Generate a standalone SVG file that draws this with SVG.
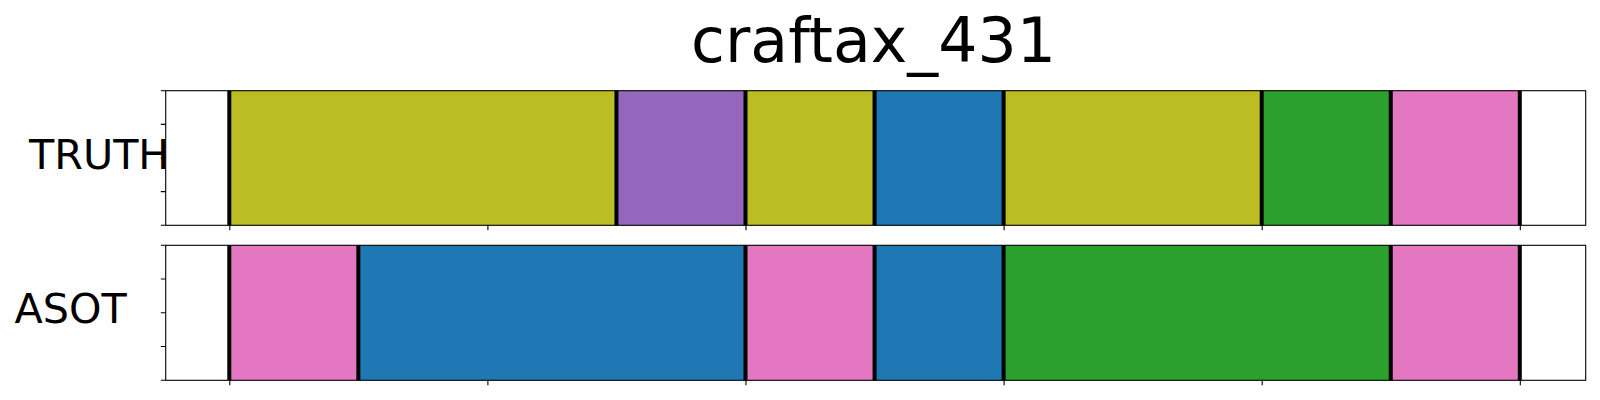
<svg xmlns="http://www.w3.org/2000/svg" width="1600" height="400" viewBox="0 0 1600 400">
<style>
.t{font-family:"DejaVu Sans","Liberation Sans",sans-serif;fill:#000}
.frame{fill:none;stroke:#000;stroke-width:1.1}
.tick{stroke:#000;stroke-width:1.1}
.sep{fill:#000}
.olive{fill:#bcbd22}.purple{fill:#9467bd}.blue{fill:#1f77b4}.green{fill:#2ca02c}.pink{fill:#e377c2}
</style>
<rect width="1600" height="400" fill="#fff"/>
<text class="t" x="873.5" y="61.7" font-size="61.7" text-anchor="middle">craftax_431</text>

<g id="truth">
  <rect class="olive" x="229.3" y="90.7" width="387.15" height="134.6"/>
  <rect class="purple" x="616.45" y="90.7" width="129.05" height="134.6"/>
  <rect class="olive" x="745.5" y="90.7" width="129.05" height="134.6"/>
  <rect class="blue" x="874.55" y="90.7" width="129.05" height="134.6"/>
  <rect class="olive" x="1003.6" y="90.7" width="258.1" height="134.6"/>
  <rect class="green" x="1261.7" y="90.7" width="129.05" height="134.6"/>
  <rect class="pink" x="1390.75" y="90.7" width="129.05" height="134.6"/>
  <g class="sep">
    <rect x="227.3" y="90.7" width="4" height="134.6"/>
    <rect x="614.45" y="90.7" width="4" height="134.6"/>
    <rect x="743.5" y="90.7" width="4" height="134.6"/>
    <rect x="872.55" y="90.7" width="4" height="134.6"/>
    <rect x="1001.6" y="90.7" width="4" height="134.6"/>
    <rect x="1259.7" y="90.7" width="4" height="134.6"/>
    <rect x="1388.75" y="90.7" width="4" height="134.6"/>
    <rect x="1517.8" y="90.7" width="4" height="134.6"/>
  </g>
  <rect class="frame" x="165.7" y="90.7" width="1420" height="134.6"/>
  <path class="tick" d="M160.8 90.7H165.7M160.8 124.35H165.7M160.8 158H165.7M160.8 191.65H165.7M160.8 225.3H165.7"/>
  <path class="tick" d="M229.8 225.3V230.2M487.9 225.3V230.2M746 225.3V230.2M1004.1 225.3V230.2M1262.2 225.3V230.2M1520.3 225.3V230.2"/>
  <text class="t" x="29" y="169.3" font-size="41.3">TRUTH</text>
</g>

<g id="asot">
  <rect class="pink" x="229.3" y="245.3" width="129.05" height="135"/>
  <rect class="blue" x="358.35" y="245.3" width="387.15" height="135"/>
  <rect class="pink" x="745.5" y="245.3" width="129.05" height="135"/>
  <rect class="blue" x="874.55" y="245.3" width="129.05" height="135"/>
  <rect class="green" x="1003.6" y="245.3" width="387.15" height="135"/>
  <rect class="pink" x="1390.75" y="245.3" width="129.05" height="135"/>
  <g class="sep">
    <rect x="227.3" y="245.3" width="4" height="135"/>
    <rect x="356.35" y="245.3" width="4" height="135"/>
    <rect x="743.5" y="245.3" width="4" height="135"/>
    <rect x="872.55" y="245.3" width="4" height="135"/>
    <rect x="1001.6" y="245.3" width="4" height="135"/>
    <rect x="1388.75" y="245.3" width="4" height="135"/>
    <rect x="1517.8" y="245.3" width="4" height="135"/>
  </g>
  <rect class="frame" x="165.7" y="245.3" width="1420" height="135"/>
  <path class="tick" d="M160.8 245.3H165.7M160.8 279.05H165.7M160.8 312.8H165.7M160.8 346.55H165.7M160.8 380.3H165.7"/>
  <path class="tick" d="M229.8 380.3V385.2M487.9 380.3V385.2M746 380.3V385.2M1004.1 380.3V385.2M1262.2 380.3V385.2M1520.3 380.3V385.2"/>
  <text class="t" x="14.5" y="322.7" font-size="41.3">ASOT</text>
</g>
</svg>
